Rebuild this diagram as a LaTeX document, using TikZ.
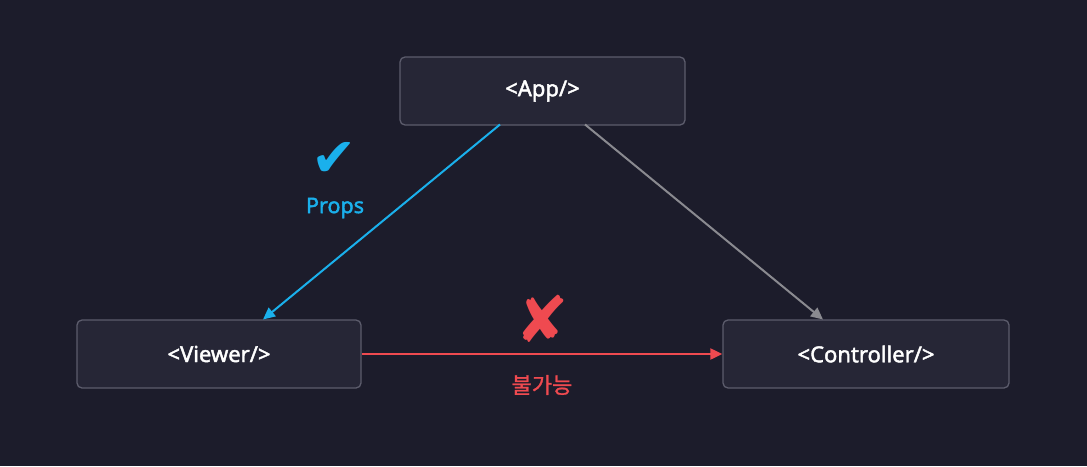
\documentclass[tikz,border=0pt]{standalone}
\usepackage{fontspec}
\setmainfont{Noto Sans}[FakeBold=2]
\newfontfamily\krfont{Noto Sans CJK KR}[FakeBold=1.2]
\newfontfamily\symfont{DejaVu Sans}
\usetikzlibrary{arrows.meta}
\definecolor{bgc}{HTML}{1C1C2B}
\definecolor{boxfill}{HTML}{262636}
\definecolor{boxline}{HTML}{5C5C6C}
\definecolor{bluec}{HTML}{1AB0EC}
\definecolor{redc}{HTML}{EF4A50}
\definecolor{grayc}{HTML}{8A8A90}
\tikzset{
  comp/.style={draw=boxline, line width=1.3pt, fill=boxfill, rounded corners=5pt,
    minimum width=285pt, minimum height=68pt, inner sep=0pt, text=white,
    font=\fontsize{22}{26}\selectfont},
  conn/.style={line width=2pt, -{Triangle[length=12pt,width=11pt]}},
  lbl/.style={font=\fontsize{21.5}{25}\selectfont, inner sep=0pt}
}
\begin{document}
\begin{tikzpicture}[x=1pt,y=-1pt]
\fill[bgc] (0,0) rectangle (1087,466);
\useasboundingbox (0,0) rectangle (1087,466);
\node[comp] (app) at (542.5,91) {<App/>};
\node[comp, minimum width=284pt] (viewer) at (219,354) {<Viewer/>};
\node[comp, minimum width=286pt] (ctrl) at (866,354) {<Controller/>};
\coordinate (appL) at (500,124.5);
\coordinate (appR) at (585,124.5);
\coordinate (viewT) at (263,319.5);
\coordinate (ctrlT) at (823,319.5);
\draw[conn, bluec] (appL) -- (viewT);
\draw[conn, grayc] (appR) -- (ctrlT);
\draw[conn, redc] (viewer.east) -- (ctrl.west);
\node[text=bluec, font=\symfont\fontsize{54}{58}\selectfont, inner sep=0pt] (chk) at (334,159) {✔};
\node[lbl, text=bluec] (props) at (335,208) {Props};
\node[text=redc, font=\symfont\fontsize{64}{68}\selectfont, inner sep=0pt] (xmark) at (542,319) {✘};
\node[lbl, text=redc, font=\krfont\fontsize{22}{26}\selectfont] (no) at (542,385) {불가능};
\end{tikzpicture}
\end{document}
